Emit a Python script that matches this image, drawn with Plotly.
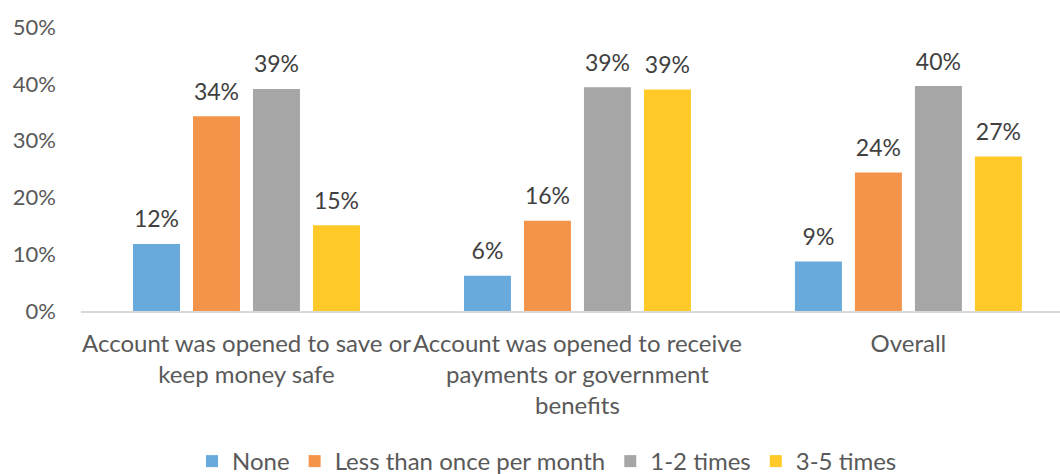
import plotly.graph_objects as go

# Share of account owners by frequency of use, per reason for opening the account
categories = [
    "Account was opened to save or<br>keep money safe",
    "Account was opened to receive<br>payments or government<br>benefits",
    "Overall",
]
series_names = ["None", "Less than once per month", "1-2 times", "3-5 times"]
none_vals = [11.8, 6.2, 8.7]
less_monthly_vals = [34.3, 15.9, 24.4]
one_two_vals = [39.1, 39.4, 39.6]
three_five_vals = [15.1, 39.0, 27.2]
y_ticks = [0, 10, 20, 30, 40, 50]

colors = ["#69AADC", "#F4934A", "#A6A6A6", "#FFC928"]
all_vals = [none_vals, less_monthly_vals, one_two_vals, three_five_vals]

FONT = "Lato"
LABEL_LIFT = 1.5  # spacing (in axis units) between bar top and its value label

fig = go.Figure()
for i, (name, vals, col) in enumerate(zip(series_names, all_vals, colors)):
    fig.add_trace(go.Bar(
        x=categories, y=vals, name=name, marker_color=col,
        marker_line_width=0, offsetgroup=str(i), hoverinfo="skip",
    ))
    # transparent spacer sitting on each bar, carrying the value label
    fig.add_trace(go.Bar(
        x=categories, y=[LABEL_LIFT] * len(vals), base=vals,
        offsetgroup=str(i), showlegend=False, hoverinfo="skip",
        marker_color="rgba(0,0,0,0)", marker_line_width=0,
        text=[f"{v:.0f}%" for v in vals], textposition="outside",
        constraintext="none", cliponaxis=False,
        textfont=dict(family=FONT, size=23, color="#404040"),
    ))

fig.update_layout(
    width=1060, height=474,
    margin=dict(l=81, r=0, t=27, b=163, autoexpand=False),
    paper_bgcolor="white", plot_bgcolor="white",
    barmode="group", bargap=0.275, bargroupgap=0.217,
    font=dict(family=FONT, size=23, color="#595959"),
    legend=dict(
        orientation="h", x=0.476, xanchor="center", y=-0.53, yanchor="middle",
        font=dict(family=FONT, size=24, color="#595959"),
        itemclick=False, traceorder="normal",
    ),
    showlegend=True,
)
fig.update_xaxes(
    range=[-0.5, 2.458], showgrid=False, ticks="",
    showline=True, linecolor="#D9D9D9", linewidth=2,
    tickangle=0, automargin=False,
    ticklabelstandoff=10,
    tickfont=dict(family=FONT, size=24, color="#595959"),
)
fig.update_yaxes(
    range=[0, 50], tickvals=y_ticks, ticktext=[f"{t}%" for t in y_ticks],
    showgrid=False, zeroline=False, showline=False, ticks="",
    ticklabelstandoff=24, automargin=False,
    tickfont=dict(family=FONT, size=22, color="#595959"),
)

fig.write_html("out.html")
